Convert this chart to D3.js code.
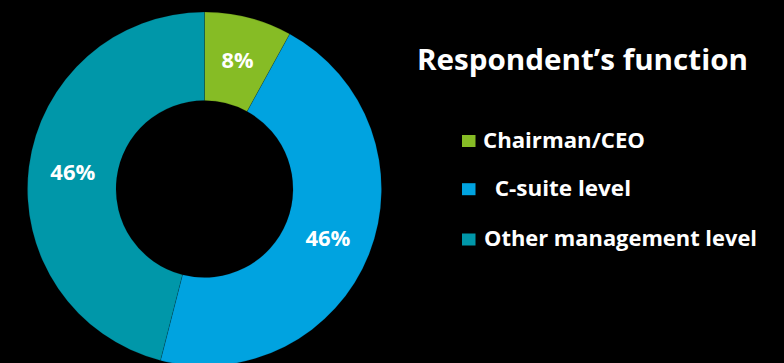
<!DOCTYPE html>
<html>
<head>
<meta charset="utf-8">
<script src="https://cdn.jsdelivr.net/npm/d3@7"></script>
<style>
  html, body { margin: 0; padding: 0; background: #000; }
  svg { display: block; }
  text { font-family: "Open Sans", "DejaVu Sans", sans-serif; font-weight: 700; fill: #fff; }
</style>
</head>
<body>
<svg id="chart" width="784" height="363"></svg>
<script>
// Survey breakdown of respondents by function
const categories = ["Chairman/CEO", "C-suite level", "Other management level"];
const shares = [8, 46, 46];
const sliceColors = ["#86BC25", "#00A3E0", "#0097A9"];
const legendLabels = ["Chairman/CEO", "  C-suite level", "Other management level"];
const titleText = "Respondent\u2019s function";

const svg = d3.select("#chart");
const width = 784, height = 363;

svg.append("rect").attr("width", width).attr("height", height).attr("fill", "#000");

// Donut geometry
const cx = 204.5, cy = 189;
const outerR = 177, innerR = 88.5;

const pie = d3.pie().sort(null).value(d => d);
const arc = d3.arc().innerRadius(innerR).outerRadius(outerR);
const arcs = pie(shares);

const g = svg.append("g").attr("transform", `translate(${cx},${cy})`);

g.selectAll("path.slice")
  .data(arcs)
  .join("path")
  .attr("class", "slice")
  .attr("d", arc)
  .attr("fill", (d, i) => sliceColors[i])
  .attr("stroke", "rgba(0,0,0,0.25)")
  .attr("stroke-width", 0.6);

g.selectAll("text.pct")
  .data(arcs)
  .join("text")
  .attr("class", "pct")
  .attr("transform", d => `translate(${arc.centroid(d)})`)
  .attr("text-anchor", "middle")
  .attr("dy", "0.36em")
  .attr("font-size", 21.5)
  .attr("textLength", d => d.data >= 10 ? 45 : 32)
  .attr("lengthAdjust", "spacingAndGlyphs")
  .text(d => d.data + "%");

// Title
svg.append("text")
  .attr("x", 417)
  .attr("y", 69.5)
  .attr("font-size", 28.5)
  .attr("textLength", 331)
  .attr("lengthAdjust", "spacingAndGlyphs")
  .text(titleText);

// Legend
const legendY = [147.5, 195.7, 246];
const legendTextX = [483, 483, 484];
const legendWidths = [162, 148, 273];
const legend = svg.append("g");
categories.forEach((c, i) => {
  legend.append("rect")
    .attr("x", 462)
    .attr("y", legendY[i] - 12.5)
    .attr("width", 13.5)
    .attr("height", 12)
    .attr("fill", sliceColors[i]);
  legend.append("text")
    .attr("x", legendTextX[i])
    .attr("y", legendY[i])
    .attr("font-size", 21.5)
    .attr("textLength", legendWidths[i])
    .attr("lengthAdjust", "spacingAndGlyphs")
    .attr("xml:space", "preserve")
    .style("white-space", "pre")
    .text(legendLabels[i]);
});
</script>
</body>
</html>
